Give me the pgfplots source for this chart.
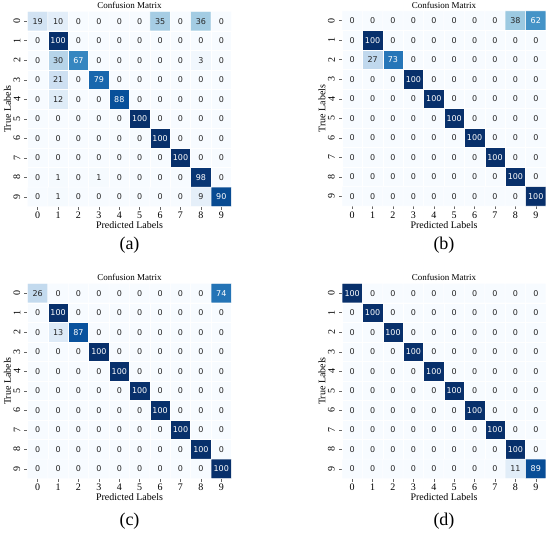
\documentclass[border=0pt]{standalone}
\usepackage{fontspec}
\setmainfont{Liberation Serif}
\newfontfamily\annfont{DejaVu Sans}
\usepackage{pgfplots}
\usepackage{pgfplotstable}
\pgfplotsset{compat=1.18}
\definecolor{anndark}{HTML}{262626}

% confusion matrices: x = predicted, y = true, v = percent
\pgfplotstableread[row sep=\\]{
x y v\\
0 0 19\\ 1 0 10\\ 2 0 0\\ 3 0 0\\ 4 0 0\\ 5 0 0\\ 6 0 35\\ 7 0 0\\ 8 0 36\\ 9 0 0\\
0 1 0\\ 1 1 100\\ 2 1 0\\ 3 1 0\\ 4 1 0\\ 5 1 0\\ 6 1 0\\ 7 1 0\\ 8 1 0\\ 9 1 0\\
0 2 0\\ 1 2 30\\ 2 2 67\\ 3 2 0\\ 4 2 0\\ 5 2 0\\ 6 2 0\\ 7 2 0\\ 8 2 3\\ 9 2 0\\
0 3 0\\ 1 3 21\\ 2 3 0\\ 3 3 79\\ 4 3 0\\ 5 3 0\\ 6 3 0\\ 7 3 0\\ 8 3 0\\ 9 3 0\\
0 4 0\\ 1 4 12\\ 2 4 0\\ 3 4 0\\ 4 4 88\\ 5 4 0\\ 6 4 0\\ 7 4 0\\ 8 4 0\\ 9 4 0\\
0 5 0\\ 1 5 0\\ 2 5 0\\ 3 5 0\\ 4 5 0\\ 5 5 100\\ 6 5 0\\ 7 5 0\\ 8 5 0\\ 9 5 0\\
0 6 0\\ 1 6 0\\ 2 6 0\\ 3 6 0\\ 4 6 0\\ 5 6 0\\ 6 6 100\\ 7 6 0\\ 8 6 0\\ 9 6 0\\
0 7 0\\ 1 7 0\\ 2 7 0\\ 3 7 0\\ 4 7 0\\ 5 7 0\\ 6 7 0\\ 7 7 100\\ 8 7 0\\ 9 7 0\\
0 8 0\\ 1 8 1\\ 2 8 0\\ 3 8 1\\ 4 8 0\\ 5 8 0\\ 6 8 0\\ 7 8 0\\ 8 8 98\\ 9 8 0\\
0 9 0\\ 1 9 1\\ 2 9 0\\ 3 9 0\\ 4 9 0\\ 5 9 0\\ 6 9 0\\ 7 9 0\\ 8 9 9\\ 9 9 90\\
}\cmA

\pgfplotstableread[row sep=\\]{
x y v\\
0 0 0\\ 1 0 0\\ 2 0 0\\ 3 0 0\\ 4 0 0\\ 5 0 0\\ 6 0 0\\ 7 0 0\\ 8 0 38\\ 9 0 62\\
0 1 0\\ 1 1 100\\ 2 1 0\\ 3 1 0\\ 4 1 0\\ 5 1 0\\ 6 1 0\\ 7 1 0\\ 8 1 0\\ 9 1 0\\
0 2 0\\ 1 2 27\\ 2 2 73\\ 3 2 0\\ 4 2 0\\ 5 2 0\\ 6 2 0\\ 7 2 0\\ 8 2 0\\ 9 2 0\\
0 3 0\\ 1 3 0\\ 2 3 0\\ 3 3 100\\ 4 3 0\\ 5 3 0\\ 6 3 0\\ 7 3 0\\ 8 3 0\\ 9 3 0\\
0 4 0\\ 1 4 0\\ 2 4 0\\ 3 4 0\\ 4 4 100\\ 5 4 0\\ 6 4 0\\ 7 4 0\\ 8 4 0\\ 9 4 0\\
0 5 0\\ 1 5 0\\ 2 5 0\\ 3 5 0\\ 4 5 0\\ 5 5 100\\ 6 5 0\\ 7 5 0\\ 8 5 0\\ 9 5 0\\
0 6 0\\ 1 6 0\\ 2 6 0\\ 3 6 0\\ 4 6 0\\ 5 6 0\\ 6 6 100\\ 7 6 0\\ 8 6 0\\ 9 6 0\\
0 7 0\\ 1 7 0\\ 2 7 0\\ 3 7 0\\ 4 7 0\\ 5 7 0\\ 6 7 0\\ 7 7 100\\ 8 7 0\\ 9 7 0\\
0 8 0\\ 1 8 0\\ 2 8 0\\ 3 8 0\\ 4 8 0\\ 5 8 0\\ 6 8 0\\ 7 8 0\\ 8 8 100\\ 9 8 0\\
0 9 0\\ 1 9 0\\ 2 9 0\\ 3 9 0\\ 4 9 0\\ 5 9 0\\ 6 9 0\\ 7 9 0\\ 8 9 0\\ 9 9 100\\
}\cmB

\pgfplotstableread[row sep=\\]{
x y v\\
0 0 26\\ 1 0 0\\ 2 0 0\\ 3 0 0\\ 4 0 0\\ 5 0 0\\ 6 0 0\\ 7 0 0\\ 8 0 0\\ 9 0 74\\
0 1 0\\ 1 1 100\\ 2 1 0\\ 3 1 0\\ 4 1 0\\ 5 1 0\\ 6 1 0\\ 7 1 0\\ 8 1 0\\ 9 1 0\\
0 2 0\\ 1 2 13\\ 2 2 87\\ 3 2 0\\ 4 2 0\\ 5 2 0\\ 6 2 0\\ 7 2 0\\ 8 2 0\\ 9 2 0\\
0 3 0\\ 1 3 0\\ 2 3 0\\ 3 3 100\\ 4 3 0\\ 5 3 0\\ 6 3 0\\ 7 3 0\\ 8 3 0\\ 9 3 0\\
0 4 0\\ 1 4 0\\ 2 4 0\\ 3 4 0\\ 4 4 100\\ 5 4 0\\ 6 4 0\\ 7 4 0\\ 8 4 0\\ 9 4 0\\
0 5 0\\ 1 5 0\\ 2 5 0\\ 3 5 0\\ 4 5 0\\ 5 5 100\\ 6 5 0\\ 7 5 0\\ 8 5 0\\ 9 5 0\\
0 6 0\\ 1 6 0\\ 2 6 0\\ 3 6 0\\ 4 6 0\\ 5 6 0\\ 6 6 100\\ 7 6 0\\ 8 6 0\\ 9 6 0\\
0 7 0\\ 1 7 0\\ 2 7 0\\ 3 7 0\\ 4 7 0\\ 5 7 0\\ 6 7 0\\ 7 7 100\\ 8 7 0\\ 9 7 0\\
0 8 0\\ 1 8 0\\ 2 8 0\\ 3 8 0\\ 4 8 0\\ 5 8 0\\ 6 8 0\\ 7 8 0\\ 8 8 100\\ 9 8 0\\
0 9 0\\ 1 9 0\\ 2 9 0\\ 3 9 0\\ 4 9 0\\ 5 9 0\\ 6 9 0\\ 7 9 0\\ 8 9 0\\ 9 9 100\\
}\cmC

\pgfplotstableread[row sep=\\]{
x y v\\
0 0 100\\ 1 0 0\\ 2 0 0\\ 3 0 0\\ 4 0 0\\ 5 0 0\\ 6 0 0\\ 7 0 0\\ 8 0 0\\ 9 0 0\\
0 1 0\\ 1 1 100\\ 2 1 0\\ 3 1 0\\ 4 1 0\\ 5 1 0\\ 6 1 0\\ 7 1 0\\ 8 1 0\\ 9 1 0\\
0 2 0\\ 1 2 0\\ 2 2 100\\ 3 2 0\\ 4 2 0\\ 5 2 0\\ 6 2 0\\ 7 2 0\\ 8 2 0\\ 9 2 0\\
0 3 0\\ 1 3 0\\ 2 3 0\\ 3 3 100\\ 4 3 0\\ 5 3 0\\ 6 3 0\\ 7 3 0\\ 8 3 0\\ 9 3 0\\
0 4 0\\ 1 4 0\\ 2 4 0\\ 3 4 0\\ 4 4 100\\ 5 4 0\\ 6 4 0\\ 7 4 0\\ 8 4 0\\ 9 4 0\\
0 5 0\\ 1 5 0\\ 2 5 0\\ 3 5 0\\ 4 5 0\\ 5 5 100\\ 6 5 0\\ 7 5 0\\ 8 5 0\\ 9 5 0\\
0 6 0\\ 1 6 0\\ 2 6 0\\ 3 6 0\\ 4 6 0\\ 5 6 0\\ 6 6 100\\ 7 6 0\\ 8 6 0\\ 9 6 0\\
0 7 0\\ 1 7 0\\ 2 7 0\\ 3 7 0\\ 4 7 0\\ 5 7 0\\ 6 7 0\\ 7 7 100\\ 8 7 0\\ 9 7 0\\
0 8 0\\ 1 8 0\\ 2 8 0\\ 3 8 0\\ 4 8 0\\ 5 8 0\\ 6 8 0\\ 7 8 0\\ 8 8 100\\ 9 8 0\\
0 9 0\\ 1 9 0\\ 2 9 0\\ 3 9 0\\ 4 9 0\\ 5 9 0\\ 6 9 0\\ 7 9 0\\ 8 9 11\\ 9 9 89\\
}\cmD

\pgfplotsset{
  cm/.style={
    scale only axis, width=204pt, height=195pt,
    xmin=-0.5, xmax=9.5, ymin=-0.5, ymax=9.5, y dir=reverse,
    clip=false,
    colormap={blues}{rgb255=(247,251,255) rgb255=(222,235,247) rgb255=(198,219,239)
      rgb255=(158,202,225) rgb255=(107,174,214) rgb255=(66,146,198)
      rgb255=(33,113,181) rgb255=(8,81,156) rgb255=(8,48,107)},
    point meta min=0, point meta max=100,
    xtick={0,...,9}, ytick={0,...,9},
    /pgf/number format/assume math mode=true,
    axis line style={draw=none},
    tick align=outside, major tick length=3pt,
    tick style={black!60, line width=0.5pt},
    tick pos=left,
    tick label style={font=\fontsize{10}{10}\selectfont, inner sep=0pt},
    xticklabel style={anchor=north, yshift=-2.5pt},
    yticklabel style={xshift=-4pt, rotate=90, anchor=south},
    title={Confusion Matrix},
    every axis title/.style={font=\fontsize{9}{9}\selectfont,
      at={(axis description cs:0.5,1.03)}, anchor=center, inner sep=0pt},
    xlabel={Predicted Labels},
    every axis x label/.style={font=\fontsize{10}{10}\selectfont,
      at={(axis description cs:0.5,-0.097)}, anchor=center, inner sep=0pt},
    ylabel={True Labels},
    every axis y label/.style={font=\fontsize{10}{10}\selectfont,
      at={(axis description cs:-0.098,0.5)}, rotate=90, anchor=center, inner sep=0pt},
  },
  cells/.style={matrix plot*, mesh/cols=10, point meta=explicit, draw=white, line width=0.5pt},
  nums/.style={only marks, mark=none, point meta=explicit symbolic,
    nodes near coords={\ifnum\pgfplotspointmeta>50 \color{white}\else\color{anndark}\fi\pgfplotspointmeta},
    nodes near coords style={anchor=center, inner sep=0pt, font=\annfont\fontsize{8}{8}\selectfont}},
}

\begin{document}
\begin{tikzpicture}
\useasboundingbox (0,0) rectangle (550pt,533pt);

\begin{axis}[cm, at={(27.5pt,521.5pt)}, anchor=north west]
\addplot[cells] table[x=x, y=y, meta=v]{\cmA};
\addplot[nums] table[x=x, y=y, meta=v]{\cmA};
\node[font=\fontsize{18}{18}\selectfont] at (axis description cs:0.5,0) [yshift=-39pt] {(a)};
\end{axis}

\begin{axis}[cm, at={(342pt,522pt)}, anchor=north west]
\addplot[cells] table[x=x, y=y, meta=v]{\cmB};
\addplot[nums] table[x=x, y=y, meta=v]{\cmB};
\node[font=\fontsize{18}{18}\selectfont] at (axis description cs:0.5,0) [yshift=-39pt] {(b)};
\end{axis}

\begin{axis}[cm, at={(27.5pt,249.5pt)}, anchor=north west]
\addplot[cells] table[x=x, y=y, meta=v]{\cmC};
\addplot[nums] table[x=x, y=y, meta=v]{\cmC};
\node[font=\fontsize{18}{18}\selectfont] at (axis description cs:0.5,0) [yshift=-43pt] {(c)};
\end{axis}

\begin{axis}[cm, at={(342pt,249.5pt)}, anchor=north west]
\addplot[cells] table[x=x, y=y, meta=v]{\cmD};
\addplot[nums] table[x=x, y=y, meta=v]{\cmD};
\node[font=\fontsize{18}{18}\selectfont] at (axis description cs:0.5,0) [yshift=-43pt] {(d)};
\end{axis}
\end{tikzpicture}
\end{document}
